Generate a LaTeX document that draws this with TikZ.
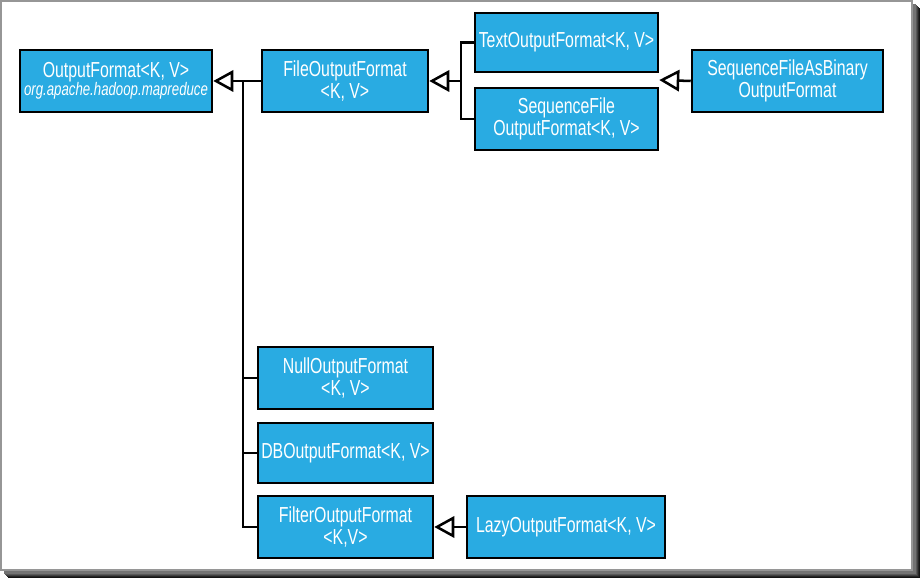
\documentclass[tikz,border=0pt]{standalone}
\usepackage{fontspec}
\usetikzlibrary{arrows.meta,calc}
\newfontfamily\condsans[FakeStretch=0.73]{Liberation Sans}
\definecolor{classblue}{RGB}{41,171,226}
\definecolor{framegray}{RGB}{150,150,150}
\begin{document}
\begin{tikzpicture}[x=0.75pt,y=-0.75pt,
  classbox/.style={draw=black, line width=1.9pt, fill=classblue, text=white,
    align=center, inner sep=0pt, font=\condsans\fontsize{16.3}{16.8}\selectfont},
  boxsize/.style 2 args={minimum width=#1*0.75pt, minimum height=#2*0.75pt},
  link/.style={draw=black, line width=1.9pt},
  inherit/.style={link, -{Triangle[open, length=15pt, width=16pt, fill=white]}}]
\useasboundingbox (0,0) rectangle (922,580);

% framed sheet with a soft drop shadow
\foreach \o/\g in {8/92,7/85,6/75,5/65,4/55}
  \fill[black!\g!white] (\o,\o) rectangle (912+\o,570+\o);
\fill[white, draw=framegray, line width=1.5pt] (1,1) rectangle (912,570);

% classes
\node[classbox, boxsize={192}{62}] (of) at (116,81)
  {OutputFormat<K, V>\\[-3.5pt]{\itshape\fontsize{13.6}{14}\selectfont org.apache.hadoop.mapreduce}};
\node[classbox, boxsize={166}{62}] (fof) at (345,81) {FileOutputFormat\\<K, V>};
\node[classbox, boxsize={183}{59}] (tof) at (566.5,42.5) {TextOutputFormat<K, V>};
\node[classbox, boxsize={183}{62}] (sfof) at (566.5,119) {SequenceFile\\OutputFormat<K, V>};
\node[classbox, boxsize={191}{62}] (sfab) at (787.5,81) {SequenceFileAsBinary\\OutputFormat};
\node[classbox, boxsize={175}{62}] (null) at (345.5,378) {NullOutputFormat\\<K, V>};
\node[classbox, boxsize={175}{60}] (db) at (345.5,453) {DBOutputFormat<K, V>};
\node[classbox, boxsize={175}{62}] (filter) at (345.5,527) {FilterOutputFormat\\<K,V>};
\node[classbox, boxsize={198}{62}] (lazy) at (566,527) {LazyOutputFormat<K, V>};

% junction points of the inheritance lines
\coordinate (trunk) at (243,81);
\coordinate (fork) at (461,81);
\coordinate (gap) at ($(tof.south east)!0.5!(sfof.north east)$);

% inheritance
\draw[inherit] (fof.west) -- (of.east);
\draw[link] (trunk) |- (null.west);
\draw[link] (trunk) |- (db.west);
\draw[link] (trunk) |- (filter.west);
\draw[inherit] (fork) -- (fof.east);
\draw[link] (tof.west) -| (fork) |- (sfof.west);
\draw[inherit] (sfab.west) -- (gap);
\draw[inherit] (lazy.west) -- (filter.east);
\end{tikzpicture}
\end{document}
